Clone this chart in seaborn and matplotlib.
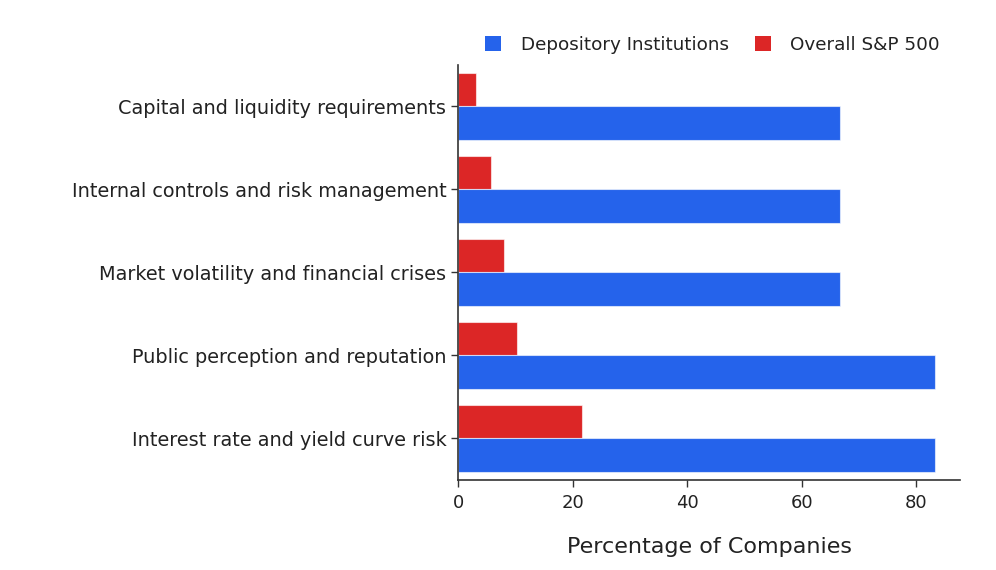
import matplotlib
matplotlib.use("Agg")
import matplotlib.pyplot as plt
from matplotlib.patches import Patch
import seaborn as sns
import pandas as pd

categories = [
    "Capital and liquidity requirements",
    "Internal controls and risk management",
    "Market volatility and financial crises",
    "Public perception and reputation",
    "Interest rate and yield curve risk",
]
depository = [66.7, 66.7, 66.7, 83.3, 83.3]
sp500 = [3.2, 5.8, 8.0, 10.2, 21.6]

series = ["Depository Institutions", "Overall S&P 500"]
colors = {"Depository Institutions": "#2563eb", "Overall S&P 500": "#dc2626"}

df = pd.DataFrame({
    "risk": categories * 2,
    "value": depository + sp500,
    "group": [series[0]] * 5 + [series[1]] * 5,
})

sns.set_theme(style="white")
plt.rcParams["font.family"] = ["DejaVu Sans"]

fig = plt.figure(figsize=(9.96, 5.7), dpi=100)
ax = fig.add_axes([0.46, 0.158, 0.504, 0.728])

# S&P first so it sits above the blue bar in each group
sns.barplot(data=df, y="risk", x="value", hue="group", order=categories,
            hue_order=[series[1], series[0]], palette=colors, saturation=1,
            width=0.8, edgecolor=(1, 1, 1, 0.6), linewidth=0.8, ax=ax, legend=False)

ax.set_xlim(0, 87.7)
ax.set_ylim(4.5, -0.5)
ax.set_xticks([0, 20, 40, 60, 80])
ax.set_xlabel("Percentage of Companies", fontsize=16, labelpad=18, color="#222222")
ax.set_ylabel("")
ax.tick_params(axis="x", labelsize=13, length=5, width=1, pad=5, colors="#333333", labelcolor="#222222")
ax.tick_params(axis="y", labelsize=13.9, length=5, width=1, colors="#333333", labelcolor="#222222")
ax.tick_params(bottom=True, left=True)
for s in ["top", "right"]:
    ax.spines[s].set_visible(False)
for s in ["left", "bottom"]:
    ax.spines[s].set_color("#333333")
    ax.spines[s].set_linewidth(1.2)

handles = [Patch(facecolor=colors[s], edgecolor="none") for s in series]
leg = fig.legend(handles, series, loc="center", bbox_to_anchor=(0.7154, 0.921), ncol=2,
                 frameon=False, fontsize=13.2, handlelength=0.87, handleheight=0.87,
                 columnspacing=1.4, handletextpad=1.08)
for t in leg.get_texts():
    t.set_color("#222222")

fig.savefig("out.png", dpi=100)
